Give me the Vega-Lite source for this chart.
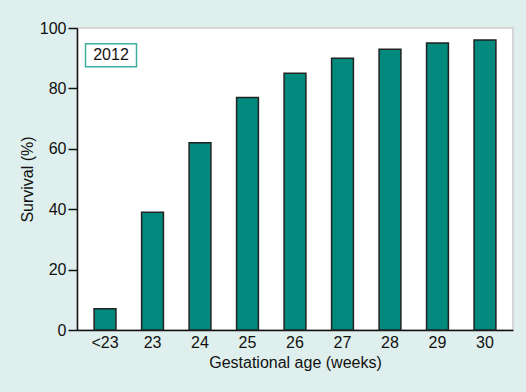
{
  "$schema": "https://vega.github.io/schema/vega-lite/v6.json",
  "autosize": "none",
  "width": 436,
  "height": 302,
  "padding": {"left": 77, "top": 28, "right": 13, "bottom": 62},
  "background": "#dfefed",
  "config": {
    "font": "Liberation Sans",
    "view": {"fill": "#ffffff", "stroke": "#d6d6d6", "strokeWidth": 2}
  },
  "data": {
    "values": [
      {"age": "<23", "survival": 7},
      {"age": "23", "survival": 39},
      {"age": "24", "survival": 62},
      {"age": "25", "survival": 77},
      {"age": "26", "survival": 85},
      {"age": "27", "survival": 90},
      {"age": "28", "survival": 93},
      {"age": "29", "survival": 95},
      {"age": "30", "survival": 96}
    ]
  },
  "layer": [
    {
      "mark": {"type": "bar", "fill": "#00897c", "stroke": "#222222", "strokeWidth": 1.5},
      "encoding": {
        "x": {
          "field": "age",
          "type": "ordinal",
          "sort": null,
          "scale": {"paddingInner": 0.54, "paddingOuter": 0.36},
          "axis": {
            "title": "Gestational age (weeks)",
            "titleFontSize": 16,
            "titleFontWeight": "normal",
            "titleColor": "#111111",
            "titlePadding": 4,
            "labelAngle": 0,
            "labelFontSize": 16,
            "labelColor": "#111111",
            "labelPadding": 4,
            "ticks": false,
            "domainColor": "#111111",
            "domainWidth": 1.5
          }
        },
        "y": {
          "field": "survival",
          "type": "quantitative",
          "scale": {"domain": [0, 100], "nice": false},
          "axis": {
            "title": "Survival (%)",
            "values": [0, 20, 40, 60, 80, 100],
            "grid": false,
            "titleFontSize": 16,
            "titleFontWeight": "normal",
            "titleColor": "#111111",
            "titlePadding": 4,
            "labelFontSize": 16,
            "labelColor": "#111111",
            "labelPadding": 2,
            "tickSize": 9,
            "tickColor": "#111111",
            "tickWidth": 1.5,
            "domainColor": "#111111",
            "domainWidth": 1.5
          }
        }
      }
    },
    {
      "data": {"values": [{"label": "2012", "age": "<23", "level": 91}]},
      "mark": {
        "type": "point",
        "shape": "M-1,-0.45 L1,-0.45 L1,0.45 L-1,0.45 Z",
        "size": 2601,
        "filled": true,
        "fill": "#ffffff",
        "stroke": "#3fae9f",
        "strokeWidth": 1.5,
        "opacity": 1,
        "xOffset": 6
      },
      "encoding": {
        "x": {"field": "age", "type": "ordinal", "sort": null},
        "y": {"field": "level", "type": "quantitative"}
      }
    },
    {
      "data": {"values": [{"label": "2012", "age": "<23", "level": 91}]},
      "mark": {"type": "text", "fontSize": 16, "color": "#111111", "dx": 6, "align": "center", "baseline": "middle"},
      "encoding": {
        "x": {"field": "age", "type": "ordinal", "sort": null},
        "y": {"field": "level", "type": "quantitative"},
        "text": {"field": "label"}
      }
    }
  ]
}
